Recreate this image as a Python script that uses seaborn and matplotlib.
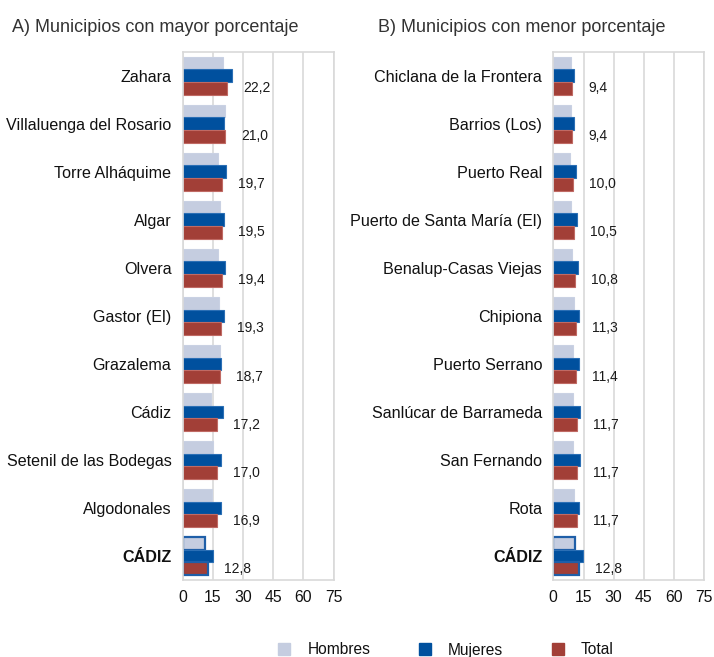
import matplotlib
matplotlib.use("Agg")
import matplotlib.pyplot as plt
import seaborn as sns
import pandas as pd
from matplotlib.patches import Patch

sns.set_style("white")
plt.rcParams['font.family'] = ['Liberation Sans', 'DejaVu Sans']

# ---- Data ----
cats_a = ["Zahara", "Villaluenga del Rosario", "Torre Alháquime", "Algar", "Olvera",
          "Gastor (El)", "Grazalema", "Cádiz", "Setenil de las Bodegas", "Algodonales", "CÁDIZ"]
hombres_a = [20.1, 21.0, 17.7, 18.5, 17.6, 18.0, 18.5, 14.1, 14.9, 14.8, 11.0]
mujeres_a = [24.5, 20.7, 21.7, 20.5, 21.0, 20.5, 18.9, 20.0, 19.0, 19.2, 14.9]
total_a = [22.2, 21.0, 19.7, 19.5, 19.4, 19.3, 18.7, 17.2, 17.0, 16.9, 12.8]

cats_b = ["Chiclana de la Frontera", "Barrios (Los)", "Puerto Real", "Puerto de Santa María (El)",
          "Benalup-Casas Viejas", "Chipiona", "Puerto Serrano", "Sanlúcar de Barrameda",
          "San Fernando", "Rota", "CÁDIZ"]
hombres_b = [8.7, 8.6, 8.5, 9.0, 9.5, 10.2, 9.9, 9.9, 9.7, 10.4, 11.0]
mujeres_b = [10.2, 10.4, 11.3, 11.8, 12.1, 12.6, 12.9, 13.3, 13.5, 12.8, 14.8]
total_b = [9.4, 9.4, 10.0, 10.5, 10.8, 11.3, 11.4, 11.7, 11.7, 11.7, 12.8]

series_names = ["Hombres", "Mujeres", "Total"]
titles = ["A) Municipios con mayor porcentaje", "B) Municipios con menor porcentaje"]
x_ticks = [0, 15, 30, 45, 60, 75]

colors = {"Hombres": "#C5CDE0", "Mujeres": "#00509E", "Total": "#A23F37"}
edges = {"Hombres": "#C9D1E3", "Mujeres": "#2B6FB5", "Total": "#C06A64"}
grid_c = "#D9D9D9"


def long_df(cats, h, m, t):
    rows = []
    for name, vals in zip(series_names, [h, m, t]):
        for c, v in zip(cats, vals):
            rows.append({"Municipio": c, "Sexo": name, "Valor": v})
    return pd.DataFrame(rows)


fig = plt.figure(figsize=(7.14, 6.57), dpi=100)
W, H = 714, 657
ax_a = fig.add_axes([182.5 / W, 1 - 580 / H, 151.2 / W, 528.3 / H])
ax_b = fig.add_axes([553.3 / W, 1 - 580 / H, 151.0 / W, 528.3 / H])

panels = [(ax_a, cats_a, hombres_a, mujeres_a, total_a),
          (ax_b, cats_b, hombres_b, mujeres_b, total_b)]

for ax, cats, h, m, t in panels:
    df = long_df(cats, h, m, t)
    sns.barplot(data=df, y="Municipio", x="Valor", hue="Sexo", order=cats,
                hue_order=series_names, palette=colors, orient="h",
                width=0.79, legend=False, ax=ax, saturation=1)
    for name, cont in zip(series_names, ax.containers):
        for bar in cont:
            bar.set_edgecolor(edges[name])
            bar.set_linewidth(0.8)
    # highlight CÁDIZ (province) bars
    for idx in (0, 2):
        bar = ax.containers[idx][len(cats) - 1]
        bar.set_edgecolor("#1F5FA8")
        bar.set_linewidth(1.6)
    # value labels (Total)
    for bar, v in zip(ax.containers[2], t):
        yc = bar.get_y() + bar.get_height() / 2
        ax.annotate(f"{v:.1f}".replace(".", ","), xy=(v, yc), xytext=(11.5, 0),
                    textcoords="offset points", va="center", ha="left",
                    fontsize=10, color="#1a1a1a")
    ax.set_xlim(0, 75)
    ax.set_xticks(x_ticks)
    ax.set_xticklabels([str(x) for x in x_ticks])
    ax.set_xlabel("")
    ax.set_ylabel("")
    ax.xaxis.grid(True, color=grid_c, linewidth=1.2)
    ax.set_axisbelow(True)
    for s in ax.spines.values():
        s.set_visible(True)
        s.set_color(grid_c)
        s.set_linewidth(1.2)
    ax.tick_params(axis="both", length=0)
    ax.tick_params(axis="y", pad=8.0, labelsize=11.6, labelcolor="#111111")
    ax.tick_params(axis="x", pad=7, labelsize=11.3, labelcolor="#111111")
    for lab in ax.get_yticklabels():
        if lab.get_text() == "CÁDIZ":
            lab.set_fontweight("bold")

fig.text(12 / W, 1 - 31.7 / H, titles[0], fontsize=13, color="#333333", va="baseline", ha="left")
fig.text(378 / W, 1 - 31.7 / H, titles[1], fontsize=13, color="#333333", va="baseline", ha="left")

handles = [Patch(facecolor=colors[n], edgecolor=colors[n], label=n) for n in series_names]
fig.legend(handles=handles, loc="center", bbox_to_anchor=(446 / W, 7 / H), ncol=3,
           frameon=False, fontsize=11.2, handlelength=0.8, handleheight=0.8,
           handletextpad=1.1, columnspacing=3.1, labelcolor="#111111")

fig.savefig("out.png", dpi=100)
